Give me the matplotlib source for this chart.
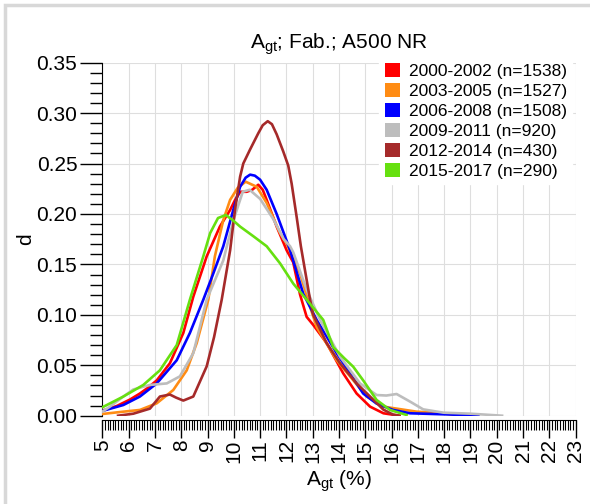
import matplotlib
matplotlib.use("Agg")
import matplotlib.pyplot as plt
from matplotlib.patches import Rectangle
from matplotlib.ticker import MultipleLocator, FormatStrFormatter

plt.rcParams['font.family'] = ['Liberation Sans', 'DejaVu Sans']

labels = ["2000-2002 (n=1538)", "2003-2005 (n=1527)", "2006-2008 (n=1508)",
          "2009-2011 (n=920)", "2012-2014 (n=430)", "2015-2017 (n=290)"]
colors = ["#ff0000", "#ff8c14", "#0000ff", "#bdbdbd", "#a52a2a", "#66e010"]

# 2000-2002
x_red = [5.0, 5.55, 6.05, 6.43, 6.75, 7.07, 7.57, 8.08, 8.46, 8.97, 9.47, 9.86, 10.05, 10.25,
         10.49, 10.7, 10.93, 11.1, 11.25, 11.63, 12.01, 12.26, 12.52, 12.77, 13.02,
         13.53, 14.16, 14.67, 15.18, 15.69, 16.3]
y_red = [0.005, 0.0096, 0.016, 0.022, 0.028, 0.035, 0.052, 0.082, 0.118, 0.158, 0.1875, 0.204, 0.214, 0.222,
         0.222, 0.224, 0.229, 0.224, 0.214, 0.1875, 0.164, 0.152, 0.12, 0.098, 0.09,
         0.072, 0.042, 0.022, 0.009, 0.0024, 0.0]

# 2003-2005
x_ora = [5.0, 5.8, 6.43, 7.07, 7.7, 8.21, 8.59, 9.03, 9.28, 9.6, 9.86, 10.15, 10.45,
         10.87, 11.25, 11.76, 12.0, 12.52, 12.9, 13.15, 13.91, 14.42, 15.05, 15.69,
         16.95, 17.97, 18.6]
y_ora = [0.0017, 0.004, 0.0057, 0.0123, 0.0255, 0.045, 0.072, 0.115, 0.158, 0.194, 0.214, 0.226, 0.232,
         0.227, 0.211, 0.181, 0.171, 0.141, 0.108, 0.088, 0.055, 0.039, 0.019, 0.009,
         0.004, 0.0024, 0.0]

# 2006-2008
x_blu = [5.0, 5.8, 6.43, 7.07, 7.83, 8.33, 8.84, 9.22, 9.6, 9.98, 10.24, 10.45, 10.62,
         10.8, 11.0, 11.25, 11.63, 12.0, 12.14, 12.64, 13.15, 13.91, 14.67, 14.92, 15.43,
         16.06, 16.7, 18.2, 19.3]
y_blu = [0.0047, 0.0106, 0.019, 0.032, 0.055, 0.082, 0.115, 0.141, 0.168, 0.204, 0.227, 0.236, 0.239,
         0.238, 0.234, 0.224, 0.2, 0.174, 0.164, 0.121, 0.095, 0.062, 0.032, 0.022, 0.012,
         0.0057, 0.0024, 0.0012, 0.0]

# 2009-2011
x_gry = [5.0, 5.29, 5.8, 6.18, 6.81, 7.45, 7.95, 8.46, 8.97, 9.6, 10.0, 10.34, 10.6,
         11.0, 11.5, 11.9, 12.14, 12.26, 12.77, 13.28, 14.04, 14.8, 15.43, 15.8, 16.19, 16.7,
         17.2, 17.97, 19.0, 20.2]
y_gry = [0.004, 0.009, 0.019, 0.026, 0.0305, 0.032, 0.039, 0.062, 0.115, 0.154, 0.195, 0.222, 0.224,
         0.215, 0.195, 0.175, 0.168, 0.162, 0.125, 0.095, 0.0585, 0.032, 0.0205, 0.02, 0.0215, 0.014,
         0.0063, 0.003, 0.002, 0.0]

# 2012-2014
x_mar = [5.6, 6.18, 6.81, 7.19, 7.57, 7.8, 8.08, 8.46, 8.97, 9.25, 9.54, 9.86, 10.05, 10.24,
         10.36, 10.62, 10.93, 11.1, 11.29, 11.45, 11.63, 11.88, 12.07, 12.2, 12.39, 12.55,
         12.9, 13.02, 13.53, 14.04, 14.67, 15.18, 15.69, 16.06, 16.3]
y_mar = [0.0, 0.002, 0.007, 0.019, 0.021, 0.018, 0.015, 0.019, 0.049, 0.078, 0.115, 0.164, 0.205, 0.237,
         0.25, 0.264, 0.28, 0.288, 0.292, 0.289, 0.279, 0.262, 0.248, 0.23, 0.197, 0.168,
         0.115, 0.1, 0.072, 0.052, 0.032, 0.019, 0.006, 0.001, 0.0]

# 2015-2017
x_grn = [5.0, 5.8, 6.56, 7.19, 7.83, 8.33, 8.84, 9.1, 9.4, 9.7, 10.0, 10.24, 10.74,
         11.25, 11.76, 12.26, 12.77, 13.4, 13.78, 14.2, 14.54, 14.92, 15.43, 15.94, 16.57]
y_grn = [0.0083, 0.019, 0.0305, 0.045, 0.07, 0.115, 0.158, 0.181, 0.196, 0.199, 0.193, 0.1875, 0.178,
         0.168, 0.151, 0.131, 0.115, 0.095, 0.068, 0.057, 0.0486, 0.035, 0.0156, 0.0057, 0.0007]

series_x = [x_red, x_ora, x_blu, x_gry, x_mar, x_grn]
series_y = [y_red, y_ora, y_blu, y_gry, y_mar, y_grn]

fig = plt.figure(figsize=(5.9, 5.04), dpi=100)
fig.patches.append(Rectangle((5 / 590, -0.05), 1.2, (504 - 5) / 504 + 0.05,
                             transform=fig.transFigure, fill=False,
                             edgecolor="#d8d8d8", linewidth=2.5, zorder=0))
ax = fig.add_axes([102.3 / 590, (504 - 415.7) / 504,
                   (575.7 - 102.3) / 590, (415.7 - 62.7) / 504])

for xs, ys, c, lab in zip(series_x, series_y, colors, labels):
    ax.plot(xs, ys, color=c, linewidth=1.9, label=lab, zorder=3,
            solid_joinstyle="round")

ax.set_xlim(5, 23)
ax.set_ylim(0, 0.35)
ax.xaxis.set_major_locator(MultipleLocator(1))
ax.xaxis.set_minor_locator(MultipleLocator(0.1))
ax.yaxis.set_major_locator(MultipleLocator(0.05))
ax.yaxis.set_minor_locator(MultipleLocator(0.01))
ax.grid(True, which="major", color="#dedede", linewidth=0.8, zorder=0)

for s in ["top", "right"]:
    ax.spines[s].set_visible(False)
ax.spines["bottom"].set_position(("outward", 3))

ax.tick_params(axis="y", which="major", direction="out", length=16, width=1, labelsize=15, pad=2)
ax.tick_params(axis="y", which="minor", direction="out", length=9, width=1)
ax.tick_params(axis="x", which="major", direction="out", length=13, width=1, labelsize=15,
               labelrotation=90, pad=1)
ax.tick_params(axis="x", which="minor", direction="out", length=7, width=0.8)
ax.yaxis.set_major_formatter(FormatStrFormatter("%.2f"))

ax.set_xlabel(r"A$_\mathregular{gt}$ (%)", fontsize=15, labelpad=4)
ax.set_ylabel("d", fontsize=15, labelpad=1)
ax.set_title(r"A$_\mathregular{gt}$; Fab.; A500 NR", fontsize=15, pad=10)

handles = [Rectangle((0, 0), 1, 1, facecolor=c, edgecolor="none") for c in colors]
leg = ax.legend(handles, labels, loc="upper right", bbox_to_anchor=(1.0, 1.025),
                fontsize=12.5, frameon=True, fancybox=False, edgecolor="white",
                framealpha=1, handlelength=0.9, handleheight=0.9, handletextpad=0.5,
                labelspacing=0.22, borderpad=0.3, borderaxespad=0.2)
leg.set_zorder(5)

fig.savefig("out.png", dpi=100)
